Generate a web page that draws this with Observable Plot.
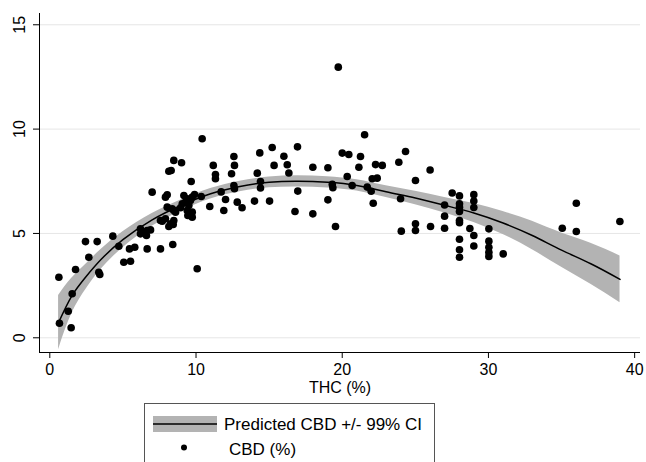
<!DOCTYPE html>
<html>
<head>
<meta charset="utf-8">
<script src="https://cdn.jsdelivr.net/npm/d3@7"></script>
<script src="https://cdn.jsdelivr.net/npm/@observablehq/plot@0.6"></script>
<style>
  html, body { margin: 0; padding: 0; background: #fff; width: 646px; height: 462px; overflow: hidden; font-family: "Liberation Sans", Arial, sans-serif; }
  #chart { position: absolute; left: 0; top: 0; }
  #legend { position: absolute; left: 144px; top: 403px; width: 291px; height: 80px; border: 1px solid #555; box-sizing: border-box; }
  #legend svg { position: absolute; left: 0; top: 0; }
</style>
</head>
<body>
<div id="chart"></div>
<div id="legend"></div>
<script>
// Observed points: THC (%) and CBD (%)
const thc = [
  0.62,0.66,1.46,1.26,1.53,1.76,2.44,2.67,3.24,3.35,3.42,4.31,4.72,5.06,5.52,5.45,5.81,6.66,7.57,8.41,10.08,6.20,6.43,6.66,6.89,6.20,6.61,7.69,8.14,8.44,7.00,7.91,8.03,8.14,8.30,8.48,9.01,8.03,8.37,8.48,7.57,7.91,8.60,8.48,8.26,
  10.42,9.67,9.17,9.40,9.62,9.74,9.90,10.36,8.94,9.40,9.44,9.74,9.06,9.28,9.51,10.94,11.90,11.18,11.33,11.33,12.59,12.63,12.43,12.59,12.63,11.72,12.02,12.82,13.15,14.00,14.19,14.36,15.21,14.41,14.41,15.34,16.01,16.24,16.35,15.03,16.94,16.96,16.77,9.74,
  19.73,21.53,20.00,20.45,21.25,21.14,17.99,19.02,22.28,22.74,23.87,24.33,26.01,20.34,22.05,22.39,19.32,19.36,20.68,21.71,21.98,25.01,19.02,22.12,23.99,17.99,19.54,24.04,25.01,25.01,26.04,
  27.0,27.0,27.0,27.52,28.02,28.02,28.02,28.02,28.02,28.02,28.73,29.0,29.0,29.0,29.0,28.02,28.02,28.02,29.0,30.03,30.03,30.03,30.03,30.03,31.01,35.05,36.01,36.01,38.99
];
const cbd = [
  2.90,0.70,0.48,1.27,2.11,3.27,4.61,3.86,4.61,3.14,3.03,4.87,4.39,3.62,3.67,4.26,4.34,4.26,4.26,4.47,3.31,5.22,5.06,5.14,5.17,4.98,4.90,5.59,5.33,5.43,6.98,6.74,6.85,7.98,8.02,8.50,8.39,6.26,6.18,6.10,5.62,5.70,6.02,5.62,5.46,
  9.54,7.49,6.82,6.66,6.58,6.74,6.87,6.77,6.23,6.10,5.86,6.02,6.42,6.50,6.34,6.29,6.10,8.26,7.82,7.62,8.69,8.26,7.86,7.30,7.14,6.99,6.63,6.50,6.23,6.55,7.89,8.86,9.12,7.49,7.18,8.26,8.70,8.29,7.90,6.55,9.15,7.03,6.05,5.78,
  12.97,9.73,8.85,8.78,8.69,8.17,8.17,8.15,8.30,8.26,8.41,8.93,8.04,7.73,7.62,7.65,7.35,7.19,7.30,7.22,7.02,7.54,6.61,6.45,6.66,5.94,5.33,5.11,5.46,5.14,5.33,
  6.36,5.83,5.25,6.94,6.80,6.42,6.26,6.05,5.62,5.51,5.24,6.86,6.55,6.24,4.90,4.72,4.22,3.86,4.40,5.22,4.63,4.34,4.10,3.90,4.02,5.25,6.45,5.09,5.57
];

// Predicted CBD curve and 99% CI
const fitX  = [0.6, 1.5, 2.5, 3.5, 5, 7, 9, 11, 13, 15, 17, 19, 21, 23, 25, 27, 29, 31, 33, 35, 37, 39];
const fitY  = [0.73, 2.0, 2.95, 3.75, 4.7, 5.65, 6.35, 6.9, 7.25, 7.45, 7.5, 7.45, 7.3, 7.0, 6.7, 6.35, 5.98, 5.5, 4.9, 4.2, 3.55, 2.8];
const fitLo = [-0.57, 1.15, 2.35, 3.27, 4.32, 5.35, 6.08, 6.65, 7.0, 7.19, 7.23, 7.18, 7.03, 6.72, 6.38, 5.98, 5.53, 4.95, 4.22, 3.38, 2.57, 1.68];
const fitHi = [2.03, 2.85, 3.55, 4.23, 5.08, 5.95, 6.62, 7.15, 7.5, 7.71, 7.77, 7.72, 7.57, 7.28, 7.02, 6.72, 6.43, 6.05, 5.58, 5.02, 4.53, 3.92];

const xTicks = [0, 10, 20, 30, 40];
const yTicks = [0, 5, 10, 15];
const xLabel = "THC (%)";
const legendLabels = ["Predicted CBD +/- 99% CI", "CBD (%)"];

const points = thc.map((t, i) => ({thc: t, cbd: cbd[i]}));
const fit = fitX.map((x, i) => ({x, y: fitY[i], lo: fitLo[i], hi: fitHi[i]}));

const xDom = [-0.705, 40.4];
const yDom = [-0.705, 15.54];

const chart = Plot.plot({
  width: 646,
  height: 400,
  marginLeft: 39,
  marginRight: 6,
  marginTop: 13,
  marginBottom: 48,
  style: {fontFamily: '"Liberation Sans", Arial, sans-serif', fontSize: "16px", color: "#000", background: "#fff"},
  x: {domain: xDom},
  y: {domain: yDom},
  marks: [
    Plot.ruleY(yTicks, {stroke: "#e6e6e6", strokeWidth: 1}),
    Plot.areaY(fit, {x: "x", y1: "lo", y2: "hi", fill: "#b3b3b3", curve: "natural"}),
    Plot.line(fit, {x: "x", y: "y", stroke: "#000", strokeWidth: 1.5, curve: "natural"}),
    Plot.dot(points, {x: "thc", y: "cbd", r: 3.8, fill: "#000", stroke: "none"}),
    Plot.ruleX([xDom[0]], {stroke: "#000", strokeWidth: 1}),
    Plot.ruleY([yDom[0]], {stroke: "#000", strokeWidth: 1}),
    Plot.axisX({ticks: xTicks, tickSize: 6, tickPadding: 5, fontSize: 16, label: null}),
    Plot.axisY({ticks: yTicks, tickSize: 6, tickPadding: 9, tickRotate: -90, fontSize: 16, label: null}),
    Plot.text([xLabel], {frameAnchor: "bottom", dy: 40, fontSize: 16, fill: "#000"})
  ]
});
document.getElementById("chart").appendChild(chart);

// Legend below the chart
const ns = "http://www.w3.org/2000/svg";
const lg = document.createElementNS(ns, "svg");
lg.setAttribute("width", 291);
lg.setAttribute("height", 60);
lg.innerHTML = `
  <rect x="8" y="12" width="64" height="16" fill="#b3b3b3"></rect>
  <line x1="8" x2="72" y1="20" y2="20" stroke="#000" stroke-width="1.5"></line>
  <text x="79" y="25.5" font-size="17" fill="#000" font-family="Liberation Sans, Arial, sans-serif">${legendLabels[0]}</text>
  <circle cx="39" cy="43.5" r="3" fill="#000"></circle>
  <text x="84" y="50.5" font-size="17" fill="#000" font-family="Liberation Sans, Arial, sans-serif">${legendLabels[1]}</text>
`;
document.getElementById("legend").appendChild(lg);
</script>
</body>
</html>
